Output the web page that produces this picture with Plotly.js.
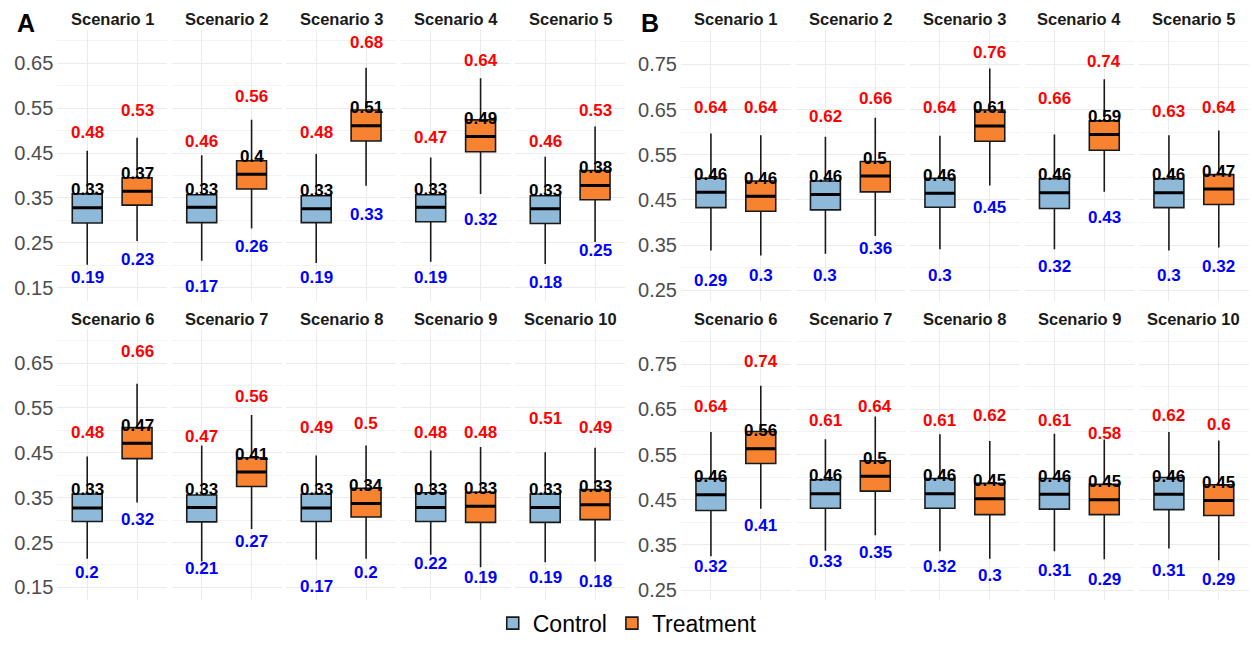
<!DOCTYPE html>
<html><head><meta charset="utf-8">
<script src="https://cdn.plot.ly/plotly-3.0.1.min.js"></script>
<style>html,body{margin:0;padding:0;background:#fff;}#chart{width:1252px;height:645px;}</style>
</head><body><div id="chart"></div>
<script>
// ---------- data ----------
const scenarios = ["Scenario 1","Scenario 2","Scenario 3","Scenario 4","Scenario 5",
                   "Scenario 6","Scenario 7","Scenario 8","Scenario 9","Scenario 10"];
const groups = ["Control","Treatment"];
const panelLetters = ["A","B"];
const ticksA = [0.15,0.25,0.35,0.45,0.55,0.65];
const ticksB = [0.25,0.35,0.45,0.55,0.65,0.75];

// Panel A - Control
const A_ctrl_q1  = [0.294,0.295,0.295,0.297,0.293,0.297,0.296,0.297,0.297,0.295];
const A_ctrl_med = [0.328,0.329,0.326,0.329,0.326,0.327,0.328,0.327,0.328,0.328];
const A_ctrl_q3  = [0.359,0.357,0.355,0.357,0.355,0.358,0.356,0.358,0.361,0.358];
const A_ctrl_lo  = [0.201,0.210,0.205,0.208,0.203,0.214,0.208,0.212,0.223,0.206];
const A_ctrl_hi  = [0.455,0.445,0.448,0.440,0.442,0.442,0.466,0.444,0.455,0.451];
const A_ctrl_max = [0.48,0.46,0.48,0.47,0.46,0.48,0.47,0.49,0.48,0.51];
const A_ctrl_min = [0.19,0.17,0.19,0.19,0.18,0.2,0.21,0.17,0.22,0.19];
const A_ctrl_medLab = [0.33,0.33,0.33,0.33,0.33,0.33,0.33,0.33,0.33,0.33];
// Panel A - Treatment
const A_trt_q1  = [0.334,0.370,0.477,0.453,0.346,0.437,0.375,0.307,0.295,0.301];
const A_trt_med = [0.365,0.403,0.511,0.487,0.378,0.471,0.407,0.337,0.331,0.334];
const A_trt_q3  = [0.395,0.433,0.546,0.524,0.411,0.506,0.439,0.371,0.362,0.368];
const A_trt_lo  = [0.254,0.282,0.377,0.359,0.252,0.339,0.280,0.214,0.195,0.208];
const A_trt_hi  = [0.484,0.524,0.640,0.617,0.509,0.604,0.534,0.466,0.463,0.461];
const A_trt_max = [0.53,0.56,0.68,0.64,0.53,0.66,0.56,0.5,0.48,0.49];
const A_trt_min = [0.23,0.26,0.33,0.32,0.25,0.32,0.27,0.2,0.19,0.18];
const A_trt_medLab = [0.37,0.4,0.51,0.49,0.38,0.47,0.41,0.34,0.33,0.33];
// Panel B - Control
const B_ctrl_q1  = [0.433,0.428,0.434,0.431,0.433,0.426,0.431,0.431,0.429,0.428];
const B_ctrl_med = [0.467,0.462,0.465,0.466,0.466,0.461,0.463,0.463,0.462,0.462];
const B_ctrl_q3  = [0.498,0.492,0.498,0.497,0.497,0.497,0.494,0.497,0.497,0.499];
const B_ctrl_lo  = [0.338,0.331,0.341,0.341,0.338,0.325,0.337,0.336,0.336,0.342];
const B_ctrl_hi  = [0.597,0.590,0.592,0.595,0.593,0.600,0.584,0.595,0.596,0.600];
const B_ctrl_max = [0.64,0.62,0.64,0.66,0.63,0.64,0.61,0.61,0.61,0.62];
const B_ctrl_min = [0.29,0.3,0.3,0.32,0.3,0.32,0.33,0.32,0.31,0.31];
const B_ctrl_medLab = [0.46,0.46,0.46,0.46,0.46,0.46,0.46,0.46,0.46,0.46];
// Panel B - Treatment
const B_trt_q1  = [0.425,0.468,0.580,0.560,0.440,0.530,0.469,0.417,0.417,0.415];
const B_trt_med = [0.458,0.503,0.614,0.595,0.474,0.563,0.502,0.452,0.450,0.448];
const B_trt_q3  = [0.492,0.535,0.649,0.625,0.506,0.601,0.536,0.486,0.484,0.483];
const B_trt_lo  = [0.327,0.370,0.482,0.468,0.345,0.430,0.371,0.319,0.318,0.316];
const B_trt_hi  = [0.593,0.632,0.741,0.717,0.604,0.702,0.634,0.580,0.583,0.581];
const B_trt_max = [0.64,0.66,0.76,0.74,0.64,0.74,0.64,0.62,0.58,0.6];
const B_trt_min = [0.3,0.36,0.45,0.43,0.32,0.41,0.35,0.3,0.29,0.29];
const B_trt_medLab = [0.46,0.5,0.61,0.59,0.47,0.56,0.5,0.45,0.45,0.45];

// ---------- assembly ----------
const panels = [
  {ticks: ticksA, range:[0.121,0.725],
   groups:[
    {q1:A_ctrl_q1,med:A_ctrl_med,q3:A_ctrl_q3,lo:A_ctrl_lo,hi:A_ctrl_hi,max:A_ctrl_max,min:A_ctrl_min,medLab:A_ctrl_medLab},
    {q1:A_trt_q1,med:A_trt_med,q3:A_trt_q3,lo:A_trt_lo,hi:A_trt_hi,max:A_trt_max,min:A_trt_min,medLab:A_trt_medLab}]},
  {ticks: ticksB, range:[0.227,0.827],
   groups:[
    {q1:B_ctrl_q1,med:B_ctrl_med,q3:B_ctrl_q3,lo:B_ctrl_lo,hi:B_ctrl_hi,max:B_ctrl_max,min:B_ctrl_min,medLab:B_ctrl_medLab},
    {q1:B_trt_q1,med:B_trt_med,q3:B_trt_q3,lo:B_trt_lo,hi:B_trt_hi,max:B_trt_max,min:B_trt_min,medLab:B_trt_medLab}]}
];

const FONT = 'Liberation Sans, Arial, Helvetica, sans-serif';
const W = 1252, H = 645;
const fills = ['#8FB9D8', '#F7822F'];
const GRID = '#EBEBEB';
const panelLeft = [57.3, 681], facetStep = 114.5, facetW = 109.7;
const rowTop = [30, 333], facetH = 274;
const boxW = 0.6;

const traces = [];
const layout = {
  width: W, height: H, autosize: false,
  margin: {l:0, r:0, t:0, b:0},
  paper_bgcolor: '#fff', plot_bgcolor: '#fff',
  font: {family: FONT},
  boxmode: 'overlay',
  showlegend: true,
  legend: {orientation:'h', x:0.501, xanchor:'center', y:1-630/H, yanchor:'middle',
           font:{size:23, color:'#000', family:FONT}, itemwidth:30, bgcolor:'rgba(0,0,0,0)'},
  annotations: []
};

const fmt = v => String(v);

panels.forEach((P, p) => {
  layout.annotations.push({xref:'paper', yref:'paper', x:(p===0?26:650)/W, y:1-23/H,
    text:'<b>'+panelLetters[p]+'</b>', showarrow:false, font:{size:25, color:'#000', family:FONT},
    xanchor:'center', yanchor:'middle'});
  scenarios.forEach((sc, f) => {
    const k = p*10 + f;
    const row = Math.floor(f/5), col = f % 5;
    const xs = k===0 ? 'x' : 'x'+(k+1);
    const ys = k===0 ? 'y' : 'y'+(k+1);
    const xk = k===0 ? 'xaxis' : 'xaxis'+(k+1);
    const yk = k===0 ? 'yaxis' : 'yaxis'+(k+1);
    const x0 = panelLeft[p] + col*facetStep;
    const y0 = rowTop[row];
    layout[xk] = {domain:[x0/W, (x0+facetW)/W], anchor: ys, range:[0.4,2.6],
      tickmode:'array', tickvals:[1,2], showticklabels:false, ticks:'',
      showgrid:true, gridcolor:GRID, gridwidth:1, zeroline:false, showline:false, fixedrange:true};
    layout[yk] = {domain:[1-(y0+facetH)/H, 1-y0/H], anchor: xs, range:P.range,
      tickmode:'linear', tick0:P.ticks[0], dtick:0.1, tickformat:'.2f',
      showticklabels: col===0, ticks:'', ticklabelstandoff: 3,
      tickfont:{size:20, color:'#4D4D4D', family:FONT},
      showgrid:true, gridcolor:GRID, gridwidth:1, zeroline:false, showline:false, fixedrange:true,
      minor:{tick0:P.ticks[0], dtick:0.05, showgrid:true, gridcolor:GRID, gridwidth:0.6, ticks:''}};
    // strip title
    layout.annotations.push({xref:'paper', yref:'paper', x:(x0+facetW/2)/W, y:1-(y0-11)/H,
      text:'<b>'+sc+'</b>', showarrow:false, font:{size:16.5, color:'#1A1A1A', family:FONT},
      xanchor:'center', yanchor:'middle'});
    const medX = [], medY = [];
    P.groups.forEach((G, g) => {
      const pos = g + 1;
      traces.push({type:'box', x:[pos], q1:[G.q1[f]], median:[G.med[f]], q3:[G.q3[f]],
        lowerfence:[G.lo[f]], upperfence:[G.hi[f]], width:boxW, whiskerwidth:0,
        name:groups[g], legendgroup:groups[g], showlegend:k===0,
        fillcolor:fills[g], line:{color:'#1A1A1A', width:1.6}, boxpoints:false,
        hoverinfo:'skip', xaxis:xs, yaxis:ys});
      medX.push(pos-boxW/2, pos+boxW/2, null);
      medY.push(G.med[f], G.med[f], null);
      layout.annotations.push({xref:xs, yref:ys, x:pos, y:G.max[f], yshift:7,
        text:'<b>'+fmt(G.max[f])+'</b>', showarrow:false, font:{size:17, color:'#FF0000', family:FONT}});
      layout.annotations.push({xref:xs, yref:ys, x:pos, y:G.min[f], yshift:-8,
        text:'<b>'+fmt(G.min[f])+'</b>', showarrow:false, font:{size:17, color:'#0000FF', family:FONT}});
      layout.annotations.push({xref:xs, yref:ys, x:pos, y:G.med[f], yshift:18,
        text:'<b>'+fmt(G.medLab[f])+'</b>', showarrow:false, font:{size:17, color:'#000000', family:FONT}});
    });
    traces.push({type:'scatter', mode:'lines', x:medX, y:medY, line:{color:'#000', width:3},
      showlegend:false, hoverinfo:'skip', xaxis:xs, yaxis:ys});
  });
});

Plotly.newPlot('chart', traces, layout, {displayModeBar:false, staticPlot:true});
</script>
</body></html>
